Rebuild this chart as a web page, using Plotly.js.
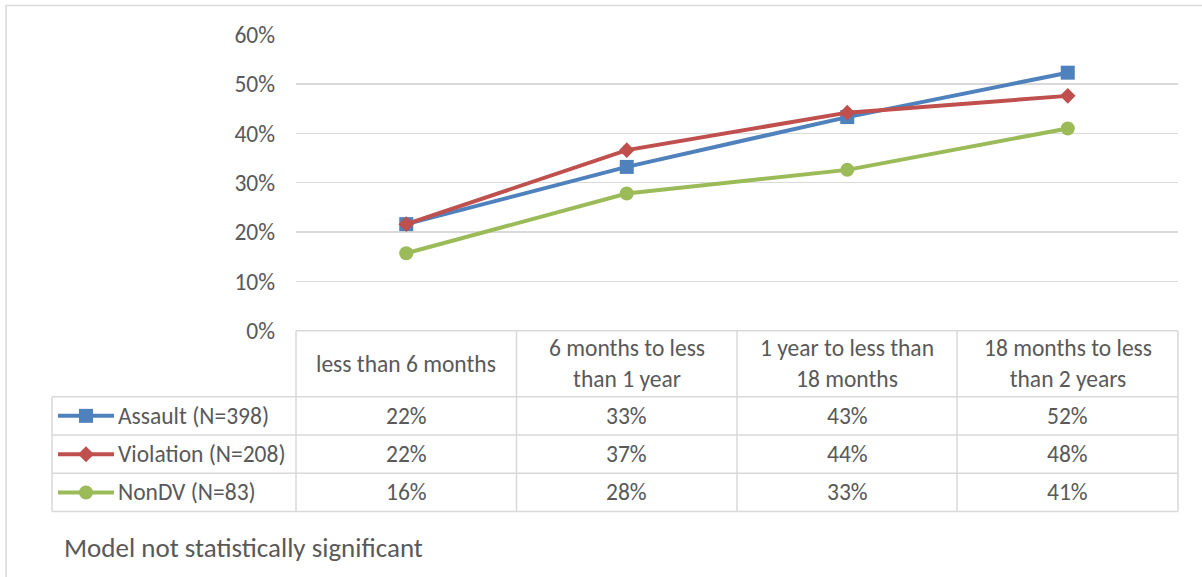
<!DOCTYPE html>
<html>
<head>
<meta charset="utf-8">
<script src="https://cdn.plot.ly/plotly-3.0.1.min.js"></script>
<style>html,body{margin:0;padding:0;background:#fff;}#chart{width:1202px;height:577px;}</style>
</head>
<body>
<div id="chart"></div>
<script>
// ---- data ----
const categories = ['less than 6 months', '6 months to less than 1 year', '1 year to less than 18 months', '18 months to less than 2 years'];
const categoryLabels = ['less than 6 months', '6 months to less<br>than 1 year', '1 year to less than<br>18 months', '18 months to less<br>than 2 years'];
const seriesNames = ['Assault (N=398)', 'Violation (N=208)', 'NonDV (N=83)'];
const assault = [21.6, 33.2, 43.3, 52.3];
const violation = [21.6, 36.6, 44.2, 47.6];
const nonDV = [15.7, 27.8, 32.6, 41.0];
const yTicks = [0, 10, 20, 30, 40, 50, 60];
const footnote = 'Model not statistically significant';

// ---- style ----
const W = 1202, H = 577;
const FONT = 'Carlito, Calibri, Lato, sans-serif';
const FS = 23.5;
const FS_NOTE = 27;
const TXT = '#595959';
const GRID = '#D9D9D9';
const colors = ['#4F81BD', '#C0504D', '#9BBB59'];
const symbols = ['square', 'diamond', 'circle'];
const seriesValues = [assault, violation, nonDV];

const px = x => x / W;
const py = y => 1 - y / H;

const plotL = 296, plotR = 1178, plotT = 34.7, plotB = 330.7;
const tableLeft = 52;
const headerBottom = 396.7;
const rowH = 38.3;
const rowBounds = [headerBottom, headerBottom + rowH, headerBottom + 2 * rowH, headerBottom + 3 * rowH];
const colBounds = [296, 516.5, 737, 957, 1178];

const xIdx = categories.map((c, i) => i);

const traces = seriesValues.map((vals, s) => ({
  type: 'scatter', mode: 'lines+markers',
  x: xIdx, y: vals, name: seriesNames[s],
  line: {color: colors[s], width: 4},
  marker: {symbol: symbols[s], size: s === 1 ? 12 : 14, color: colors[s]},
  cliponaxis: false, showlegend: false, hoverinfo: 'skip'
}));

const shapes = [];
const annotations = [];
const lineStyle = {color: GRID, width: 1.5};

// outer chart border
shapes.push({type: 'rect', xref: 'paper', yref: 'paper', x0: px(6), x1: px(1220), y0: py(5.5), y1: py(600), line: {color: GRID, width: 1.5}});

// table lines
shapes.push({type: 'line', xref: 'paper', yref: 'paper', x0: px(plotL), x1: px(plotR), y0: py(plotB), y1: py(plotB), line: lineStyle});
const tableBottom = headerBottom + 3 * rowH;
rowBounds.forEach(y => {
  shapes.push({type: 'line', xref: 'paper', yref: 'paper', x0: px(tableLeft), x1: px(plotR), y0: py(y), y1: py(y), line: lineStyle});
});
shapes.push({type: 'line', xref: 'paper', yref: 'paper', x0: px(tableLeft), x1: px(tableLeft), y0: py(headerBottom), y1: py(tableBottom), line: lineStyle});
colBounds.forEach(x => {
  shapes.push({type: 'line', xref: 'paper', yref: 'paper', x0: px(x), x1: px(x), y0: py(plotB), y1: py(tableBottom), line: lineStyle});
});

// header labels
categoryLabels.forEach((lab, i) => {
  annotations.push({xref: 'x', yref: 'paper', x: i, y: py((plotB + headerBottom) / 2), text: lab, showarrow: false,
    xanchor: 'center', yanchor: 'middle', font: {family: FONT, size: FS, color: TXT}});
});

// rows
seriesValues.forEach((vals, s) => {
  const cy = headerBottom + rowH * (s + 0.5);
  vals.forEach((v, i) => {
    annotations.push({xref: 'x', yref: 'paper', x: i, y: py(cy), text: Math.round(v) + '%', showarrow: false,
      xanchor: 'center', yanchor: 'middle', font: {family: FONT, size: FS, color: TXT}});
  });
  annotations.push({xref: 'paper', yref: 'paper', x: px(116), y: py(cy), text: seriesNames[s], showarrow: false,
    xanchor: 'left', yanchor: 'middle', font: {family: FONT, size: FS, color: TXT}});
  // legend key
  shapes.push({type: 'line', xref: 'paper', yref: 'paper', x0: px(58), x1: px(114), y0: py(cy), y1: py(cy), line: {color: colors[s], width: 4}});
  const mx = 86, r = 7;
  if (symbols[s] === 'square') {
    shapes.push({type: 'rect', xref: 'paper', yref: 'paper', x0: px(mx - r), x1: px(mx + r), y0: py(cy - r), y1: py(cy + r), fillcolor: colors[s], line: {width: 0}});
  } else if (symbols[s] === 'diamond') {
    const d = 8;
    shapes.push({type: 'path', xref: 'paper', yref: 'paper',
      path: `M ${px(mx - d)} ${py(cy)} L ${px(mx)} ${py(cy - d)} L ${px(mx + d)} ${py(cy)} L ${px(mx)} ${py(cy + d)} Z`,
      fillcolor: colors[s], line: {width: 0}});
  } else {
    shapes.push({type: 'circle', xref: 'paper', yref: 'paper', x0: px(mx - r), x1: px(mx + r), y0: py(cy - r), y1: py(cy + r), fillcolor: colors[s], line: {width: 0}});
  }
});

// footnote
annotations.push({xref: 'paper', yref: 'paper', x: px(62), y: py(547), text: footnote, showarrow: false,
  xanchor: 'left', yanchor: 'middle', font: {family: FONT, size: FS_NOTE, color: TXT}});

const layout = {
  width: W, height: H,
  margin: {l: 0, r: 0, t: 0, b: 0, pad: 0},
  paper_bgcolor: '#fff', plot_bgcolor: '#fff',
  font: {family: FONT, size: FS, color: TXT},
  showlegend: false,
  hovermode: false,
  xaxis: {domain: [px(plotL), px(plotR)], range: [-0.5, 3.5], showticklabels: false, showgrid: false, zeroline: false, showline: false, ticks: ''},
  yaxis: {domain: [py(plotB), py(plotT)], range: [0, 60], tickvals: yTicks, ticktext: yTicks.map(v => v + '%'),
    showgrid: true, gridcolor: GRID, gridwidth: 1.5, zeroline: false, showline: false,
    ticks: '', ticklabelstandoff: 20, tickfont: {family: FONT, size: FS, color: TXT}},
  shapes: shapes,
  annotations: annotations
};

Plotly.newPlot('chart', traces, layout, {staticPlot: true, displayModeBar: false});
</script>
</body>
</html>
